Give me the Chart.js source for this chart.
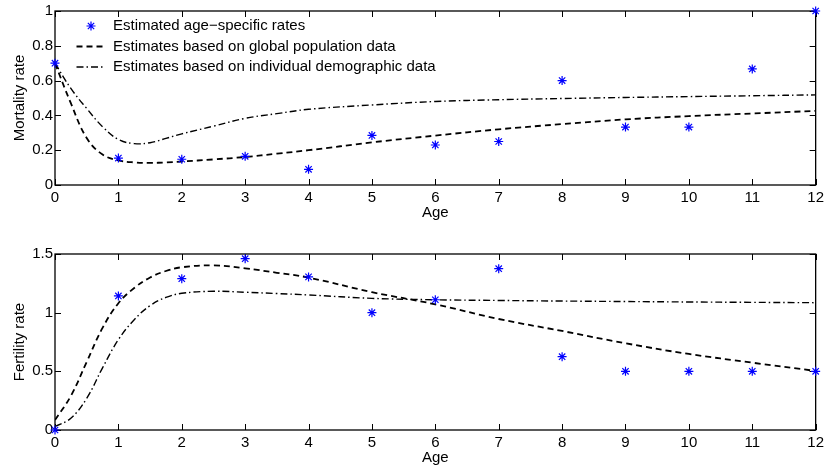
<!DOCTYPE html>
<html><head><meta charset="utf-8">
<script src="https://cdn.jsdelivr.net/npm/chart.js@4.4.1/dist/chart.umd.min.js"></script>
<style>
html,body{margin:0;padding:0;background:#fff;}
#wrap{position:relative;width:828px;height:470px;overflow:hidden;}
.panel{position:absolute;left:0;width:828px;height:235px;}
</style></head><body>
<div id="wrap">
<div class="panel" style="top:0"><canvas id="mort" width="828" height="235"></canvas></div>
<div class="panel" style="top:235px"><canvas id="fert" width="828" height="235"></canvas></div>
</div>
<script>
// ---- data ----
const ages = [0, 1, 2, 3, 4, 5, 6, 7, 8, 9, 10, 11, 12];
const mortalityRates = [0.70, 0.155, 0.148, 0.165, 0.09, 0.285, 0.23, 0.25, 0.60, 0.333, 0.333, 0.667, 1.0];
const fertilityRates = [0, 1.143, 1.29, 1.46, 1.305, 1.0, 1.11, 1.375, 0.625, 0.5, 0.5, 0.5, 0.5];

const curveAges = [0, 0.25, 0.5, 0.75, 1, 1.25, 1.5, 1.75, 2, 2.5, 3, 3.5, 4, 5, 6, 7, 8, 9, 10, 11, 12];
const mortalityGlobal = [0.70, 0.47, 0.27, 0.175, 0.142, 0.130, 0.127, 0.130, 0.135, 0.147, 0.161, 0.180, 0.200, 0.245, 0.284, 0.320, 0.350, 0.377, 0.396, 0.411, 0.426];
const mortalityIndividual = [0.70, 0.555, 0.44, 0.335, 0.262, 0.238, 0.243, 0.268, 0.294, 0.338, 0.383, 0.410, 0.435, 0.460, 0.480, 0.490, 0.497, 0.503, 0.508, 0.513, 0.518];
const fertilityGlobal = [0.085, 0.29, 0.58, 0.87, 1.08, 1.21, 1.30, 1.355, 1.387, 1.403, 1.378, 1.340, 1.299, 1.175, 1.071, 0.946, 0.844, 0.739, 0.648, 0.574, 0.503];
const fertilityIndividual = [0.03, 0.10, 0.27, 0.53, 0.77, 0.94, 1.06, 1.13, 1.165, 1.182, 1.174, 1.163, 1.151, 1.122, 1.110, 1.104, 1.099, 1.095, 1.091, 1.088, 1.085];

const xTicks = [0, 1, 2, 3, 4, 5, 6, 7, 8, 9, 10, 11, 12];
const mortalityTicks = [0, 0.2, 0.4, 0.6, 0.8, 1];
const fertilityTicks = [0, 0.5, 1, 1.5];

const seriesLabels = ['Estimated age\u2212specific rates', 'Estimates based on global population data', 'Estimates based on individual demographic data'];

// ---- helpers ----
Chart.defaults.font.family = '"Liberation Sans", Arial, Helvetica, sans-serif';
Chart.defaults.font.size = 15;
Chart.defaults.color = '#000';

const pts = (xs, ys) => xs.map((x, i) => ({x, y: ys[i]}));

// small legend icon for the star marker, drawn by Chart.js's own point helper
const starIcon = document.createElement('canvas');
starIcon.width = 12; starIcon.height = 12;
(function () {
  const c = starIcon.getContext('2d');
  c.strokeStyle = '#0000ff'; c.lineWidth = 1.2;
  Chart.helpers.drawPoint(c, {pointStyle: 'star', radius: 4.5, rotation: 0, borderWidth: 1.2}, 6, 6);
})();

const framePlugin = {
  id: 'frameTicks',
  beforeDatasetsDraw(chart) {
    const {ctx, chartArea: a, scales: {x, y}} = chart;
    ctx.save();
    ctx.strokeStyle = '#000';
    ctx.lineWidth = 1;
    ctx.beginPath();
    x.ticks.forEach(t => {
      const px = Math.round(x.getPixelForValue(t.value)) + 0.5;
      ctx.moveTo(px, a.bottom); ctx.lineTo(px, a.bottom - 6);
      ctx.moveTo(px, a.top); ctx.lineTo(px, a.top + 6);
    });
    y.ticks.forEach(t => {
      const py = Math.round(y.getPixelForValue(t.value)) + 0.5;
      ctx.moveTo(a.left, py); ctx.lineTo(a.left + 6, py);
      ctx.moveTo(a.right, py); ctx.lineTo(a.right - 6, py);
    });
    ctx.stroke();
    ctx.lineWidth = 1.3;
    ctx.strokeRect(a.left, a.top, a.right - a.left, a.bottom - a.top);
    ctx.restore();
  }
};

const legendShift = {
  id: 'legendShift',
  afterLayout(chart, args, opts) {
    if (chart.legend && opts && opts.x !== undefined) {
      const w = chart.legend.width, h = chart.legend.height;
      chart.legend.left = opts.x; chart.legend.top = opts.y;
      chart.legend.right = opts.x + w; chart.legend.bottom = opts.y + h;
    }
  }
};

const fmt = v => String(+Number(v).toFixed(2));

function makeChart(id, rates, globalCurve, indivCurve, yMax, yTickVals, yTitle, showLegend, pad, xAxisH, titleBottom) {
  return new Chart(document.getElementById(id), {
    type: 'line',
    data: {
      datasets: [
        {
          label: seriesLabels[0], data: pts(ages, rates), showLine: false,
          pointStyle: 'star', pointRadius: 4.5, pointBorderWidth: 1.2,
          borderColor: '#0000ff', backgroundColor: '#0000ff', pointBorderColor: '#0000ff',
          clip: false, order: 0, legendStyle: starIcon, legendLineWidth: 1.2
        },
        {
          label: seriesLabels[1], data: pts(curveAges, globalCurve),
          borderColor: '#000', backgroundColor: 'rgba(0,0,0,0)', borderWidth: 1.8,
          borderDash: [6, 4], pointRadius: 0, tension: 0.4,
          order: 1, legendStyle: 'line', legendLineWidth: 1.8
        },
        {
          label: seriesLabels[2], data: pts(curveAges, indivCurve),
          borderColor: '#000', backgroundColor: 'rgba(0,0,0,0)', borderWidth: 1.4,
          borderDash: [7, 3, 1.5, 3], pointRadius: 0, tension: 0.4,
          order: 2, legendStyle: 'line', legendLineWidth: 1.4
        }
      ]
    },
    options: {
      responsive: false, animation: false, devicePixelRatio: 1,
      layout: {padding: pad},
      scales: {
        x: {
          type: 'linear', min: 0, max: 12,
          afterBuildTicks: s => { s.ticks = xTicks.map(v => ({value: v})); },
          ticks: {padding: 4, maxRotation: 0, autoSkip: false, callback: fmt},
          grid: {display: false, drawTicks: false},
          border: {display: false},
          title: {display: true, text: 'Age', padding: {top: 0, bottom: titleBottom}},
          afterFit: s => { s.height = xAxisH; }
        },
        y: {
          type: 'linear', min: 0, max: yMax,
          afterBuildTicks: s => { s.ticks = yTickVals.map(v => ({value: v})); },
          ticks: {padding: 2, callback: fmt},
          grid: {display: false, drawTicks: false},
          border: {display: false},
          title: {display: true, text: yTitle, padding: {top: 11, bottom: 0}},
          afterFit: s => { s.width = 55; }
        }
      },
      plugins: {
        legend: {
          display: showLegend, position: 'chartArea', align: 'start',
          labels: {
            usePointStyle: true, pointStyleWidth: 29, boxHeight: 6, padding: 5.5,
            color: '#000',
            generateLabels: chart => chart.data.datasets.map((ds, i) => ({
              text: ds.label, pointStyle: ds.legendStyle, strokeStyle: ds.borderColor,
              fillStyle: ds.backgroundColor, lineWidth: ds.legendLineWidth,
              lineDash: ds.borderDash || [], hidden: false, datasetIndex: i, fontColor: '#000'
            }))
          }
        },
        legendShift: {x: 71, y: 13},
        tooltip: {enabled: false}
      }
    },
    plugins: [framePlugin, legendShift]
  });
}

makeChart('mort', mortalityRates, mortalityGlobal, mortalityIndividual, 1, mortalityTicks, 'Mortality rate', true,
  {top: 9, right: 11, left: 0, bottom: 0}, 50, 13);
makeChart('fert', fertilityRates, fertilityGlobal, fertilityIndividual, 1.5, fertilityTicks, 'Fertility rate', false,
  {top: 19, right: 11, left: 0, bottom: 0}, 40, 3);
</script>
</body></html>
